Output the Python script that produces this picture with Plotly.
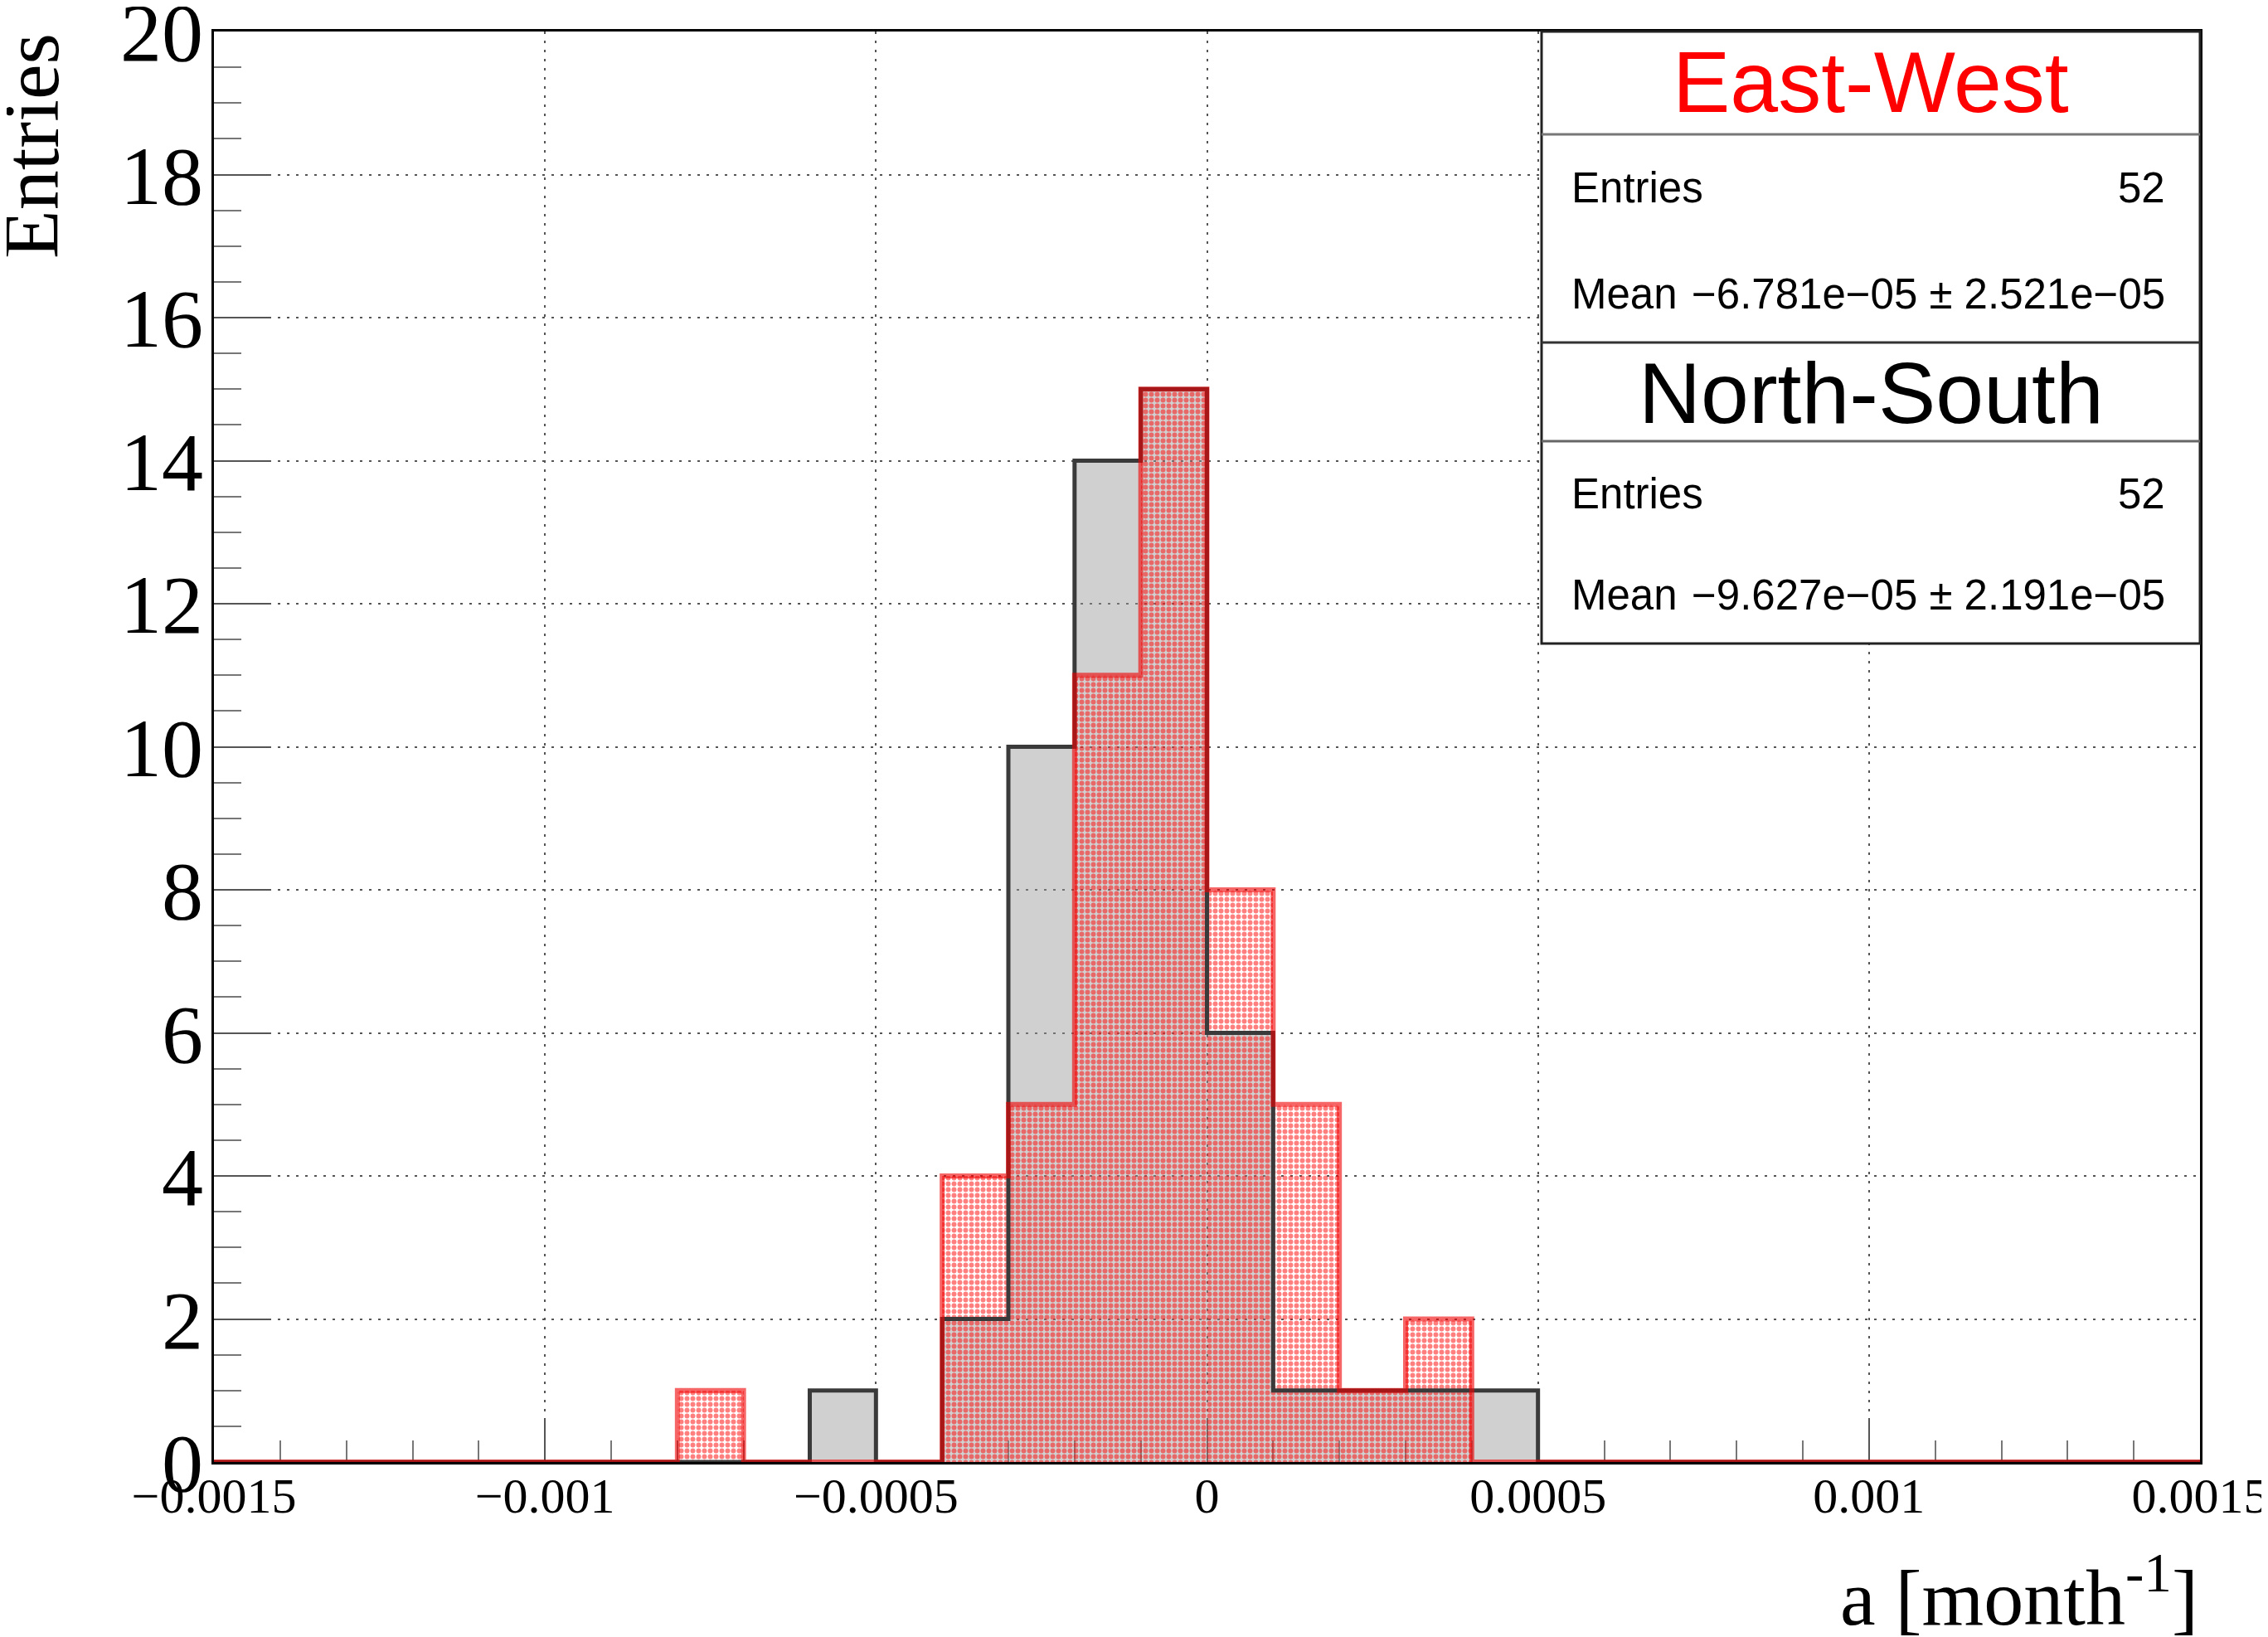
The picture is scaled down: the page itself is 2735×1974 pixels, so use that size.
import numpy as np
import plotly.graph_objects as go

# ---------------- data ----------------
bin_low = -0.0015
bin_width = 0.0001
n_bins = 30
# counts per bin, from -0.0015 to 0.0015 (30 bins of 1e-4)
east_west = [0, 0, 0, 0, 0, 0, 0, 1, 0, 0, 0, 4, 5, 11, 15,
             8, 5, 1, 2, 0, 0, 0, 0, 0, 0, 0, 0, 0, 0, 0]
north_south = [0, 0, 0, 0, 0, 0, 0, 0, 0, 1, 0, 2, 10, 14, 15,
               6, 1, 1, 1, 1, 0, 0, 0, 0, 0, 0, 0, 0, 0, 0]
x_tick_vals = [-0.0015, -0.001, -0.0005, 0, 0.0005, 0.001, 0.0015]
x_tick_text = ["\u22120.0015", "\u22120.001", "\u22120.0005", "0", "0.0005", "0.001", "0.0015"]
y_tick_vals = [0, 2, 4, 6, 8, 10, 12, 14, 16, 18, 20]
ew_stats = {"title": "East-West", "entries": "52", "mean": "\u22126.781e\u221205 \u00b1 2.521e\u221205"}
ns_stats = {"title": "North-South", "entries": "52", "mean": "\u22129.627e\u221205 \u00b1 2.191e\u221205"}

edges = bin_low + bin_width * np.arange(n_bins + 1)
centers = edges[:-1] + bin_width / 2

fig = go.Figure()

# North-South: gray filled histogram
fig.add_trace(go.Bar(
    x=centers, y=north_south, width=bin_width,
    marker=dict(color="rgba(150,150,150,0.45)", line=dict(width=0)),
    cliponaxis=False, showlegend=False, hoverinfo="skip"))
fig.add_trace(go.Scatter(
    x=edges, y=north_south + [north_south[-1]], mode="lines",
    line=dict(shape="hv", color="#3a3a3a", width=5),
    cliponaxis=False, showlegend=False, hoverinfo="skip"))

# East-West: red dotted pattern histogram
fig.add_trace(go.Bar(
    x=centers, y=east_west, width=bin_width,
    marker=dict(color="rgba(0,0,0,0)", line=dict(width=0),
                pattern=dict(shape=".", fgcolor="red", bgcolor="rgba(0,0,0,0)",
                             size=7, solidity=0.55, fillmode="overlay")),
    cliponaxis=False, showlegend=False, hoverinfo="skip"))
fig.add_trace(go.Scatter(
    x=edges, y=east_west + [east_west[-1]], mode="lines",
    line=dict(shape="hv", color="rgba(240,0,0,0.6)", width=6),
    cliponaxis=False, showlegend=False, hoverinfo="skip"))

serif = "Liberation Serif"
sans = "Liberation Sans"

# page body has an 8px margin; compensate so the plot frame sits where intended
OFF = 8
fig.update_layout(
    width=2735, height=1974,
    margin=dict(l=258 - OFF, r=82 + OFF, t=38 - OFF, b=211 + OFF),
    paper_bgcolor="white", plot_bgcolor="white",
    barmode="overlay", bargap=0,
    showlegend=False,
)

fig.update_xaxes(
    range=[-0.0015, 0.0015],
    tickvals=x_tick_vals, ticktext=x_tick_text,
    ticks="inside", ticklen=52, tickwidth=2, tickcolor="#555",
    tickfont=dict(family=serif, size=60, color="black"),
    showline=True, linecolor="black", linewidth=3, mirror=True,
    showgrid=True, gridcolor="#555", gridwidth=2, griddash="3px,8px",
    zeroline=False, layer="below traces", automargin=False,
    minor=dict(dtick=0.0001, tick0=-0.0015, ticks="inside", ticklen=26,
               tickwidth=2, tickcolor="#777", showgrid=False),
    ticklabelstandoff=-14, ticklabeloverflow="allow",
)
fig.update_yaxes(
    range=[0, 20],
    tickvals=y_tick_vals,
    ticks="inside", ticklen=66, tickwidth=2, tickcolor="#555",
    tickfont=dict(family=serif, size=100, color="black"),
    showline=True, linecolor="black", linewidth=3, mirror=True,
    showgrid=True, gridcolor="#555", gridwidth=2, griddash="3px,8px",
    zeroline=False, layer="below traces", automargin=False,
    minor=dict(dtick=0.5, tick0=0, ticks="inside", ticklen=33,
               tickwidth=2, tickcolor="#777", showgrid=False),
    ticklabelstandoff=-10, ticklabeloverflow="allow",
)

# ---- stats boxes ----
box_x0 = (1859 - 258) / 2395
def py(Y):
    return (1763 - Y) / 1725

shapes = [
    dict(type="rect", xref="paper", yref="paper", x0=box_x0, x1=1.0, y0=py(776), y1=1.0,
         fillcolor="white", line=dict(color="#222", width=3), layer="above"),
]
for Y, col in [(162, "#777"), (413, "#333"), (532, "#666")]:
    shapes.append(dict(type="line", xref="paper", yref="paper", x0=box_x0, x1=1.0,
                       y0=py(Y), y1=py(Y), line=dict(color=col, width=3), layer="above"))
fig.update_layout(shapes=shapes)

xl = (1893 - 258) / 2395
xr = (2613 - 258) / 2395
xc = (2256 - 258) / 2395
ann = []
for stats, color, yt, ye, ym in [(ew_stats, "red", 99, 227, 354),
                                  (ns_stats, "black", 474, 595, 717)]:
    ann.append(dict(text=stats["title"], x=xc, y=py(yt), xref="paper", yref="paper",
                    xanchor="center", yanchor="middle", showarrow=False,
                    font=dict(family=sans, size=104, color=color)))
    ann.append(dict(text="Entries", x=xl, y=py(ye), xref="paper", yref="paper",
                    xanchor="left", yanchor="middle", showarrow=False,
                    font=dict(family=sans, size=51, color="black")))
    ann.append(dict(text=stats["entries"], x=xr, y=py(ye), xref="paper", yref="paper",
                    xanchor="right", yanchor="middle", showarrow=False,
                    font=dict(family=sans, size=51, color="black")))
    ann.append(dict(text="Mean", x=xl, y=py(ym), xref="paper", yref="paper",
                    xanchor="left", yanchor="middle", showarrow=False,
                    font=dict(family=sans, size=51, color="black")))
    ann.append(dict(text=stats["mean"], x=xr, y=py(ym), xref="paper", yref="paper",
                    xanchor="right", yanchor="middle", showarrow=False,
                    font=dict(family=sans, size=51, color="black")))

# axis titles
ann.append(dict(text="a [month<sup>-1</sup>]", x=1.0, y=py(1919), xref="paper", yref="paper",
                xanchor="right", yanchor="middle", showarrow=False,
                font=dict(family=serif, size=96, color="black")))
ann.append(dict(text="Entries", x=(37 - 258) / 2395, y=1.0, xref="paper", yref="paper",
                xanchor="center", yanchor="top", textangle=-90, showarrow=False,
                font=dict(family=serif, size=96, color="black")))
fig.update_layout(annotations=ann)

fig.write_html("out.html")
